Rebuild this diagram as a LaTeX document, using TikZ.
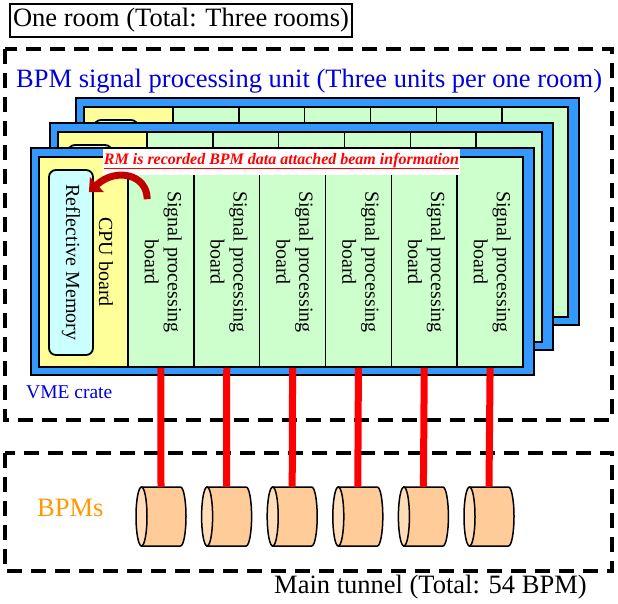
\documentclass[tikz,border=0pt]{standalone}
\usepackage{fontspec}
\setmainfont{Liberation Serif}
\usetikzlibrary{arrows.meta,calc}
\definecolor{crateblue}{HTML}{3399FF}
\definecolor{boardgreen}{HTML}{CCFFCC}
\definecolor{cpuyellow}{HTML}{FFFF99}
\definecolor{rmcyan}{HTML}{CCFFFF}
\definecolor{bpmbody}{HTML}{FFCC99}
\definecolor{bpmend}{HTML}{FFDDB8}
\definecolor{bpmorange}{HTML}{FF9900}
\definecolor{arrowred}{HTML}{C00000}
\definecolor{textblue}{HTML}{0000DD}
\begin{document}
\begin{tikzpicture}[x=1pt,y=-1pt,
  dashbox/.style={line width=4pt, dash pattern=on 15pt off 9pt},
  crateframe/.style={fill=crateblue, draw=black, line width=1.2pt},
  crateinner/.style={draw=black, line width=2.4pt},
  divline/.style={draw=black, line width=1.6pt},
  spboard/.style={draw=black, line width=1.6pt, fill=boardgreen, minimum width=65.83pt, minimum height=210pt, inner sep=0pt, font=\fontsize{20}{23}\selectfont},
  cpubox/.style={draw=black, line width=1.6pt, fill=cpuyellow, minimum width=89pt, minimum height=210pt, inner sep=0pt},
  rmbox/.style={draw=black, line width=1.8pt, fill=rmcyan, rounded corners=7pt, minimum width=44pt, minimum height=185pt, inner sep=0pt, font=\fontsize{20}{23}\selectfont},
  plainlabel/.style={inner sep=0pt, font=\fontsize{20}{23}\selectfont},
  heading/.style={inner sep=0pt, font=\fontsize{26.5}{30}\selectfont},
  sigline/.style={draw=red, line width=7pt},
  bpmnode/.style={minimum width=50pt, minimum height=59pt, inner sep=0pt},
  cylbody/.style={fill=bpmbody, draw=black, line width=1.5pt},
  cylend/.style={fill=bpmend, draw=black, line width=1.5pt},
]
\useasboundingbox (0,0) rectangle (618,603);

% dashed areas
\draw[dashbox] (5,49) rectangle (612,420);
\draw[dashbox] (5,453) rectangle (612,571);

% headings
\node[heading, draw=black, line width=2pt, minimum width=342pt, minimum height=33pt] (room) at (181,20.5) {One room (Total: Three rooms)};
\node[heading, text=textblue, anchor=base west] (unit) at (16,87) {BPM signal processing unit (Three units per one room)};

% back crates
\foreach \dx/\dy in {45/-50, 19/-25} {
  \begin{scope}[shift={(\dx,\dy)}]
    \draw[crateframe] (31,148) rectangle (534,375);
    \fill[cpuyellow] (39,157) rectangle (128,367);
    \fill[boardgreen] (128,157) rectangle (523,367);
    \foreach \k in {0,...,5} \draw[divline] ({128+65.833*\k},157) -- ({128+65.833*\k},367);
    \draw[line width=1.8pt, fill=rmcyan, rounded corners=7pt] (49,170) rectangle (93,355);
    \draw[crateinner] (39,157) rectangle (523,367);
  \end{scope}
}

% front crate
\draw[crateframe] (31,148) rectangle (534,375);
\node[cpubox] (cpu) at (83.5,262) {};
\node[rmbox] (rm) at (71,262.5) {\rotatebox{-90}{Reflective Memory}};
\node[plainlabel] (cpulabel) at (106,262) {\rotatebox{-90}{CPU board}};
\foreach \i in {1,...,6}
  \node[spboard] (sp\i) at ({128+65.833*(\i-0.5)},262)
    {\rotatebox{-90}{\begin{tabular}{@{}c@{}}Signal processing\\board\end{tabular}}};
\draw[crateinner] (39,157) rectangle (523,367);

% annotation
\node[fill=white, inner sep=0pt, minimum width=357pt, minimum height=26pt] (note) at (281.5,162) {};
\node[inner sep=0pt, font=\fontsize{16}{18}\selectfont\bfseries\itshape, text=red] (notetext) at (281.5,161)
  {RM is recorded BPM data attached beam information};
\draw[red, line width=1.6pt] ($(notetext.base west)+(0,3.5)$) -- ($(notetext.base east)+(0,3.5)$);
\draw[arrowred, line width=7pt, -{Triangle[width=20pt,length=11pt]}]
  ($(sp1.north west)+(20,43)$) .. controls ($(sp1.north west)+(20,18)$) and ($(rm.north east)+(22,-2)$) .. ($(rm.north east)+(-5,23)$);

\node[font=\fontsize{19.5}{22}\selectfont, text=textblue, anchor=base west, inner sep=0pt] (vme) at (26,398) {VME crate};

% BPMs
\node[heading, text=bpmorange, anchor=base west] (bpmlabel) at (37,516) {BPMs};
\foreach \i in {1,...,6} {
  \pgfmathsetmacro{\x}{161+65.6*(\i-1)}
  \node[bpmnode] (bpm\i) at (\x,516.5) {};
  \draw[cylbody] (\x-19.5,487) -- (\x+19.5,487) arc[start angle=-90, end angle=90, x radius=5.5, y radius=29.5] -- (\x-19.5,546) -- cycle;
  \draw[cylend] (\x-19.5,516.5) ellipse [x radius=5.5, y radius=29.5];
  \draw[sigline] (sp\i.south) -- (bpm\i.north);
}

\node[heading, anchor=base west] (tunnel) at (274,593) {Main tunnel (Total: 54 BPM)};
\end{tikzpicture}
\end{document}
